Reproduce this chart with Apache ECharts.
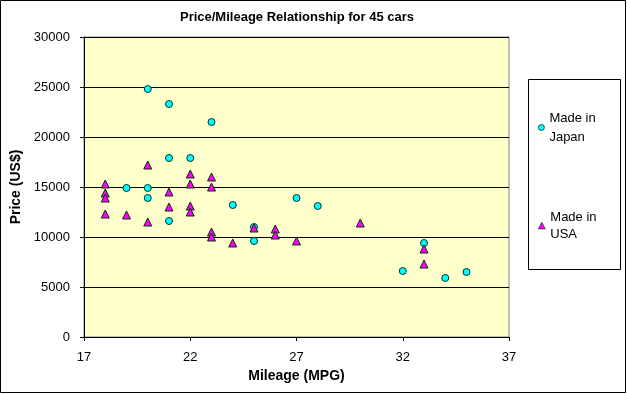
<!DOCTYPE html>
<html>
<head>
<meta charset="utf-8">
<style>html,body{margin:0;padding:0;background:#fff}#c{width:627px;height:394px}</style>
<script src="https://cdn.jsdelivr.net/npm/echarts@6/dist/echarts.min.js"></script>
</head>
<body>
<div id="c"></div>
<script>
var japanMpg   = [20, 21, 23, 21, 22, 19, 20, 20, 24, 27, 28, 21, 25, 25, 33, 32, 34, 35];
var japanPrice = [24800, 23300, 21500, 17900, 17900, 14900, 14900, 13900, 13200, 13900, 13100, 11600, 11000, 9600, 9400, 6600, 5900, 6500];
var usaMpg   = [20, 22, 23, 18, 22, 23, 18, 18, 21, 21, 22, 22, 18, 19, 20, 23, 23, 24, 25, 26, 26, 27, 30, 33, 33];
var usaPrice = [17200, 16300, 16000, 15300, 15300, 15000, 14400, 13900, 14500, 13000, 13100, 12500, 12300, 12200, 11500, 10500, 10000, 9400, 10900, 10800, 10200, 9600, 11400, 8800, 7300];
var xTicks = [17, 22, 27, 32, 37];
var yTicks = [0, 5000, 10000, 15000, 20000, 25000, 30000];

function pairs(xs, ys) { return xs.map(function (x, i) { return [x, ys[i]]; }); }

var font = 'Arial, "Liberation Sans", sans-serif';
var chart = echarts.init(document.getElementById('c'), null, {renderer: 'canvas'});
chart.setOption({
  animation: false,
  backgroundColor: '#ffffff',
  textStyle: {fontFamily: font, color: '#000'},
  title: {
    text: 'Price/Mileage Relationship for 45 cars',
    left: 297, top: 11, padding: 0, textAlign: 'center',
    textStyle: {fontFamily: font, fontSize: 13, fontWeight: 'bold', color: '#000'}
  },
  grid: {
    left: 84, top: 37, right: 118, bottom: 57,
    show: true, backgroundColor: '#FFFFCC', borderColor: '#808080', borderWidth: 1
  },
  xAxis: {
    type: 'value', min: xTicks[0], max: xTicks[xTicks.length - 1], interval: 5,
    name: 'Mileage (MPG)', nameLocation: 'middle', nameGap: 32,
    nameTextStyle: {fontFamily: font, fontSize: 14, fontWeight: 'bold', color: '#000'},
    axisLine: {show: true, onZero: false, lineStyle: {color: '#000', width: 1}},
    axisTick: {show: true, length: 4, lineStyle: {color: '#000'}},
    axisLabel: {fontFamily: font, fontSize: 13, color: '#000', margin: 14},
    splitLine: {show: false}
  },
  yAxis: {
    type: 'value', min: yTicks[0], max: yTicks[yTicks.length - 1], interval: 5000,
    name: 'Price (US$)', nameLocation: 'middle', nameGap: 54, nameRotate: 90,
    nameTextStyle: {fontFamily: font, fontSize: 14, fontWeight: 'bold', color: '#000'},
    axisLine: {show: true, lineStyle: {color: '#000', width: 1}},
    axisTick: {show: true, length: 4, lineStyle: {color: '#000'}},
    axisLabel: {fontFamily: font, fontSize: 13, color: '#000', margin: 14,
                formatter: function (v) { return String(v); }},
    splitLine: {show: true, lineStyle: {color: '#000', width: 1}}
  },
  legend: [{
    data: ['Made in Japan'], orient: 'vertical', left: 538, top: 99, padding: 0,
    itemWidth: 6, itemHeight: 6, itemGap: 0,
    itemStyle: {borderWidth: 0.8},
    formatter: function () { return 'Made in\nJapan'; },
    textStyle: {fontFamily: font, fontSize: 13, color: '#000', lineHeight: 19, padding: [19, 0, 0, 0]}
  }, {
    data: ['Made in USA'], orient: 'vertical', left: 538, top: 200, padding: 0,
    itemWidth: 7, itemHeight: 7, itemGap: 0,
    itemStyle: {borderWidth: 0.6},
    formatter: function () { return 'Made in\nUSA'; },
    textStyle: {fontFamily: font, fontSize: 13, color: '#000', lineHeight: 17, padding: [17, 0, 0, 0]}
  }],
  graphic: [
    {type: 'rect', z: -1, silent: true, shape: {x: 528.5, y: 79.5, width: 92, height: 190},
     style: {fill: '#fff', stroke: '#000', lineWidth: 1}},
    {type: 'rect', z: 100, silent: true, shape: {x: 0.5, y: 0.5, width: 625, height: 392},
     style: {fill: 'none', stroke: '#000', lineWidth: 1}}
  ],
  series: [{
    name: 'Made in Japan', type: 'scatter', symbol: 'circle', symbolSize: 7,
    itemStyle: {color: '#00FFFF', borderColor: '#003333', borderWidth: 1, opacity: 1},
    data: pairs(japanMpg, japanPrice)
  }, {
    name: 'Made in USA', type: 'scatter', symbol: 'triangle', symbolSize: 8,
    itemStyle: {color: '#FF00FF', borderColor: '#003300', borderWidth: 1, opacity: 1},
    data: pairs(usaMpg, usaPrice)
  }]
});
</script>
</body>
</html>
